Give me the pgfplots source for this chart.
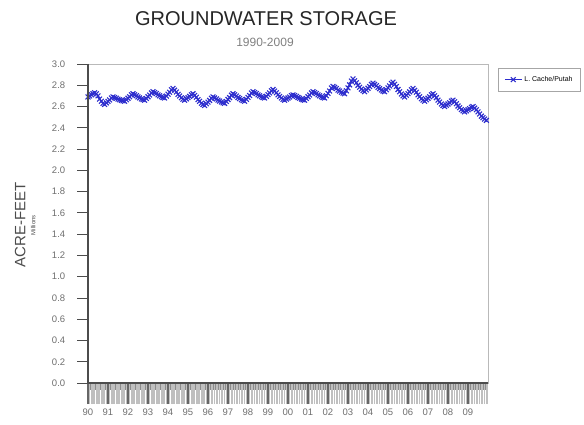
\documentclass[border=0pt]{standalone}
\usepackage{fontspec}
\setmainfont{Liberation Sans}
\usepackage{pgfplots}
\pgfplotsset{compat=1.18}
\definecolor{gwblue}{RGB}{45,45,205}
\definecolor{tickgray}{RGB}{110,110,110}
\begin{document}
\begin{tikzpicture}[x=1pt,y=1pt]
% darker strip of the tick band right below the axis
\fill[black!45] (88,34) rectangle (488,41);
\begin{axis}[
  at={(88pt,41pt)}, anchor=south west,
  scale only axis, width=400pt, height=319pt,
  xmin=1990, xmax=2010, ymin=0, ymax=3,
  axis line style={draw=gray!55, line width=1pt},
  ytick={0,0.2,...,3.01},
  yticklabel style={/pgf/number format/fixed, /pgf/number format/fixed zerofill, /pgf/number format/precision=1, xshift=-15pt},
  ytick pos=left, xtick pos=bottom, tick align=outside,
  y tick style={draw=black!70, line width=0.8pt, /pgfplots/major tick length=11pt},
  xtick={1990,...,2009},
  xticklabels={90,91,92,93,94,95,96,97,98,99,00,01,02,03,04,05,06,07,08,09},
  minor xtick={1990,1990.08333,...,2010},
  x tick style={/pgfplots/major tick length=21pt, /pgfplots/minor tick length=21pt},
  every major x tick/.append style={draw=black!60, line width=1.2pt},
  every minor x tick/.append style={draw=gray!50, line width=1.1pt},
  x tick label style={yshift=-18pt},
  tick label style={font=\fontsize{9.5}{10}\selectfont, text=tickgray},
  /pgf/number format/assume math mode=true,
  legend style={at={(1.025,0.987)}, anchor=north west, draw=gray!70,
    font=\fontsize{7}{8}\selectfont, inner xsep=6pt, inner ysep=6pt,
    legend cell align=left},
]
\addplot[color=gwblue, line width=1.1pt, mark=x, mark size=3.4pt] coordinates {
(1990.00,2.690) (1990.08,2.700) (1990.17,2.710) (1990.25,2.720) (1990.33,2.730) (1990.42,2.720) (1990.50,2.700) (1990.58,2.670) (1990.67,2.650) (1990.75,2.630) (1990.83,2.620) (1990.92,2.634)
(1991.00,2.648) (1991.08,2.662) (1991.17,2.680) (1991.25,2.690) (1991.33,2.684) (1991.42,2.678) (1991.50,2.670) (1991.58,2.664) (1991.67,2.658) (1991.75,2.653) (1991.83,2.650) (1991.92,2.664)
(1992.00,2.678) (1992.08,2.692) (1992.17,2.710) (1992.25,2.720) (1992.33,2.711) (1992.42,2.702) (1992.50,2.690) (1992.58,2.681) (1992.67,2.672) (1992.75,2.665) (1992.83,2.660) (1992.92,2.676)
(1993.00,2.692) (1993.08,2.708) (1993.17,2.728) (1993.25,2.740) (1993.33,2.731) (1993.42,2.722) (1993.50,2.710) (1993.58,2.701) (1993.67,2.692) (1993.75,2.685) (1993.83,2.680) (1993.92,2.698)
(1994.00,2.716) (1994.08,2.734) (1994.17,2.757) (1994.25,2.770) (1994.33,2.754) (1994.42,2.737) (1994.50,2.715) (1994.58,2.699) (1994.67,2.682) (1994.75,2.669) (1994.83,2.660) (1994.92,2.672)
(1995.00,2.684) (1995.08,2.696) (1995.17,2.711) (1995.25,2.720) (1995.33,2.704) (1995.42,2.687) (1995.50,2.665) (1995.58,2.649) (1995.67,2.632) (1995.75,2.619) (1995.83,2.610) (1995.92,2.626)
(1996.00,2.642) (1996.08,2.658) (1996.17,2.678) (1996.25,2.690) (1996.33,2.681) (1996.42,2.672) (1996.50,2.660) (1996.58,2.651) (1996.67,2.642) (1996.75,2.635) (1996.83,2.630) (1996.92,2.648)
(1997.00,2.666) (1997.08,2.684) (1997.17,2.707) (1997.25,2.720) (1997.33,2.710) (1997.42,2.699) (1997.50,2.685) (1997.58,2.675) (1997.67,2.664) (1997.75,2.656) (1997.83,2.650) (1997.92,2.668)
(1998.00,2.686) (1998.08,2.704) (1998.17,2.727) (1998.25,2.740) (1998.33,2.731) (1998.42,2.722) (1998.50,2.710) (1998.58,2.701) (1998.67,2.692) (1998.75,2.685) (1998.83,2.680) (1998.92,2.696)
(1999.00,2.712) (1999.08,2.728) (1999.17,2.748) (1999.25,2.760) (1999.33,2.745) (1999.42,2.730) (1999.50,2.710) (1999.58,2.695) (1999.67,2.680) (1999.75,2.668) (1999.83,2.660) (1999.92,2.670)
(2000.00,2.680) (2000.08,2.690) (2000.17,2.703) (2000.25,2.710) (2000.33,2.703) (2000.42,2.695) (2000.50,2.685) (2000.58,2.678) (2000.67,2.670) (2000.75,2.664) (2000.83,2.660) (2000.92,2.676)
(2001.00,2.692) (2001.08,2.708) (2001.17,2.728) (2001.25,2.740) (2001.33,2.731) (2001.42,2.722) (2001.50,2.710) (2001.58,2.701) (2001.67,2.692) (2001.75,2.685) (2001.83,2.680) (2001.92,2.702)
(2002.00,2.724) (2002.08,2.746) (2002.17,2.774) (2002.25,2.790) (2002.33,2.780) (2002.42,2.769) (2002.50,2.755) (2002.58,2.745) (2002.67,2.734) (2002.75,2.726) (2002.83,2.720) (2002.92,2.748)
(2003.00,2.776) (2003.08,2.804) (2003.17,2.839) (2003.25,2.860) (2003.33,2.842) (2003.42,2.824) (2003.50,2.800) (2003.58,2.782) (2003.67,2.764) (2003.75,2.750) (2003.83,2.740) (2003.92,2.756)
(2004.00,2.772) (2004.08,2.788) (2004.17,2.808) (2004.25,2.820) (2004.33,2.808) (2004.42,2.796) (2004.50,2.780) (2004.58,2.768) (2004.67,2.756) (2004.75,2.746) (2004.83,2.740) (2004.92,2.758)
(2005.00,2.776) (2005.08,2.794) (2005.17,2.817) (2005.25,2.830) (2005.33,2.809) (2005.42,2.788) (2005.50,2.760) (2005.58,2.739) (2005.67,2.718) (2005.75,2.701) (2005.83,2.690) (2005.92,2.706)
(2006.00,2.722) (2006.08,2.738) (2006.17,2.758) (2006.25,2.770) (2006.33,2.752) (2006.42,2.734) (2006.50,2.710) (2006.58,2.692) (2006.67,2.674) (2006.75,2.660) (2006.83,2.650) (2006.92,2.664)
(2007.00,2.678) (2007.08,2.692) (2007.17,2.710) (2007.25,2.720) (2007.33,2.702) (2007.42,2.684) (2007.50,2.660) (2007.58,2.642) (2007.67,2.624) (2007.75,2.610) (2007.83,2.600) (2007.92,2.612)
(2008.00,2.624) (2008.08,2.636) (2008.17,2.651) (2008.25,2.660) (2008.33,2.644) (2008.42,2.627) (2008.50,2.605) (2008.58,2.589) (2008.67,2.572) (2008.75,2.559) (2008.83,2.550) (2008.92,2.560)
(2009.00,2.570) (2009.08,2.580) (2009.17,2.593) (2009.25,2.600) (2009.33,2.585) (2009.42,2.570) (2009.50,2.550) (2009.58,2.530) (2009.67,2.510) (2009.75,2.495) (2009.83,2.482) (2009.92,2.470)
};
\addlegendentry{L. Cache/Putah}
\end{axis}
% dark left and bottom axis lines
\draw[black!70, line width=1.3pt] (88,360) -- (88,41) -- (488,41);
% titles
\node[anchor=base, font=\fontsize{20}{22}\selectfont, text=black!85] at (266,398) {GROUNDWATER STORAGE};
\node[anchor=base, font=\fontsize{12}{13}\selectfont, text=gray] at (265,377) {1990-2009};
% y axis label
\node[rotate=90, anchor=south, font=\fontsize{15}{16}\selectfont, text=black!70] at (29,199) {ACRE-FEET};
\node[rotate=90, anchor=south, font=\fontsize{6}{7}\selectfont, text=black!70] at (39,199) {Millions};
\pgfresetboundingbox
\path[use as bounding box] (0,0) rectangle (584,424);
\end{tikzpicture}
\end{document}
